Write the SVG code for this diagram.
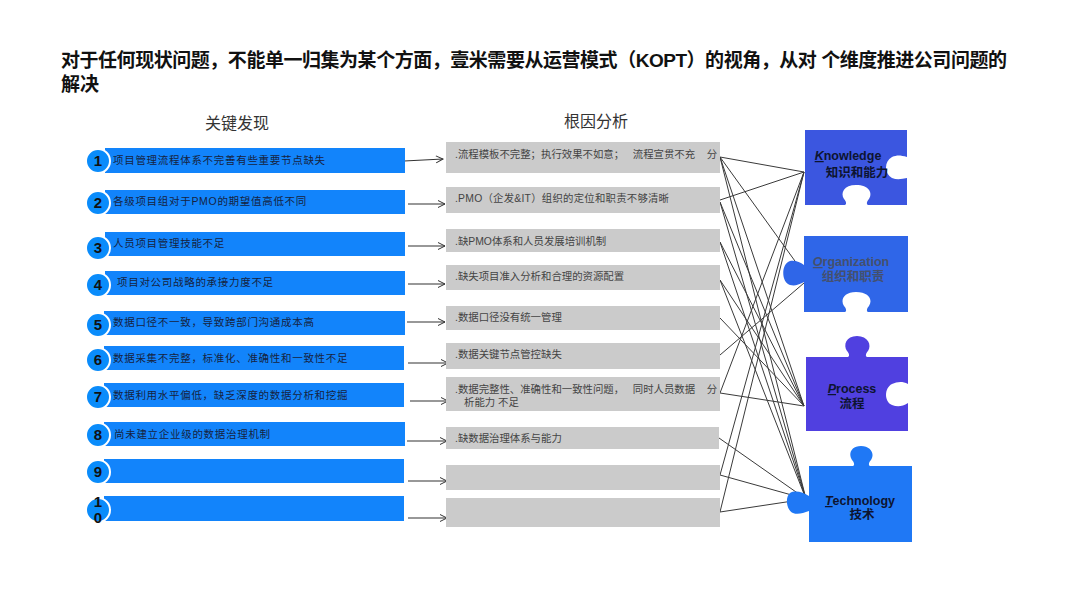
<svg xmlns="http://www.w3.org/2000/svg" width="1080" height="608" viewBox="0 0 1080 608">
<defs>
<marker id="arr" markerWidth="10" markerHeight="10" refX="8" refY="4" orient="auto" markerUnits="userSpaceOnUse"><path d="M1 0.5L8 4L1 7.5" fill="none" stroke="#333" stroke-width="1"/></marker>
</defs>
<style>
text{font-family:"Liberation Sans","Noto Sans CJK SC",sans-serif}
.t{font-size:19px;font-weight:700;fill:#111}
.h{font-size:16px;fill:#333;text-anchor:middle}
.bar{fill:#1284fb}
.c{fill:#0a8cfb;stroke:#fff;stroke-width:2}
.n{font-size:15px;font-weight:700;fill:#111;text-anchor:middle}
.bt{font-size:10.5px;fill:#16233f;letter-spacing:.7px}
.box{fill:#cbcbcb}
.gt{font-size:10.4px;fill:#444}
.a{stroke:#333;stroke-width:1.1;fill:none;marker-end:url(#arr)}
.l{stroke:#3a3a3a;stroke-width:1;fill:none}
.pe{font-size:12.5px;font-weight:700;text-anchor:middle}
.pc{font-size:12.5px;font-weight:700;text-anchor:middle}
.i{font-style:italic;text-decoration:underline}
</style>
<rect width="1080" height="608" fill="#fff"/>
<g id="title">
<text class="t" x="61" y="67" textLength="946" lengthAdjust="spacing">对于任何现状问题，不能单一归集为某个方面，壹米需要从运营模式（KOPT）的视角，从对 个维度推进公司问题的</text>
<text class="t" x="61" y="91">解决</text>
</g>
<text class="h" x="237" y="129">关键发现</text>
<text class="h" x="596" y="127">根因分析</text>
<g id="connectors">
<path class="a" d="M404 161L443 159"/>
<path class="a" d="M408 204L445 204"/>
<path class="a" d="M408 246L445 246"/>
<path class="a" d="M408 284L445 284"/>
<path class="a" d="M407 322L445 322"/>
<path class="a" d="M408 363L448 363"/>
<path class="a" d="M410 401L448 401"/>
<path class="a" d="M407 441L447 441"/>
<path class="a" d="M408 481L447 481"/>
<path class="a" d="M408 518L447 518"/>
<path class="l" d="M720 157L804 172M720 157L800 268M720 157L804 406M720 157L806 499"/>
<path class="l" d="M720 200L804 172M720 202L804 406M720 202L806 499"/>
<path class="l" d="M720 242L804 406M720 242L806 499"/>
<path class="l" d="M720 280L804 406M720 280L806 499"/>
<path class="l" d="M720 318L804 406"/>
<path class="l" d="M720 355L804 283"/>
<path class="l" d="M720 393L804 172M720 393L804 406"/>
<path class="l" d="M719 438L806 499"/>
<path class="l" d="M720 475L804 172M720 475L806 499"/>
<path class="l" d="M720 512L804 172M720 512L806 499"/>
</g>
<g id="f1"><rect class="bar" x="105" y="148" width="300" height="25"/><circle class="c" cx="98" cy="161" r="12"/><text class="n" x="98" y="166">1</text><text class="bt" x="113" y="164">项目管理流程体系不完善有些重要节点缺失</text></g>
<g id="f2"><rect class="bar" x="105" y="190" width="300" height="24"/><circle class="c" cx="98" cy="203" r="12"/><text class="n" x="98" y="208">2</text><text class="bt" x="113" y="205">各级项目组对于PMO的期望值高低不同</text></g>
<g id="f3"><rect class="bar" x="105" y="232" width="300" height="24"/><circle class="c" cx="98" cy="248" r="12"/><text class="n" x="98" y="253">3</text><text class="bt" x="113" y="247">人员项目管理技能不足</text></g>
<g id="f4"><rect class="bar" x="105" y="271" width="300" height="24"/><circle class="c" cx="98" cy="285" r="12"/><text class="n" x="98" y="290">4</text><text class="bt" x="117" y="286">项目对公司战略的承接力度不足</text></g>
<g id="f5"><rect class="bar" x="104" y="311" width="301" height="24"/><circle class="c" cx="98" cy="325" r="12"/><text class="n" x="98" y="330">5</text><text class="bt" x="113" y="326">数据口径不一致，导致跨部门沟通成本高</text></g>
<g id="f6"><rect class="bar" x="104" y="346" width="300" height="24"/><circle class="c" cx="98" cy="360" r="12"/><text class="n" x="98" y="365">6</text><text class="bt" x="113" y="362">数据采集不完整，标准化、准确性和一致性不足</text></g>
<g id="f7"><rect class="bar" x="104" y="383" width="300" height="24"/><circle class="c" cx="98" cy="397" r="12"/><text class="n" x="98" y="402">7</text><text class="bt" x="113" y="399">数据利用水平偏低，缺乏深度的数据分析和挖掘</text></g>
<g id="f8"><rect class="bar" x="104" y="422" width="301" height="24"/><circle class="c" cx="98" cy="435" r="12"/><text class="n" x="98" y="440">8</text><text class="bt" x="114" y="438">尚未建立企业级的数据治理机制</text></g>
<g id="f9"><rect class="bar" x="104" y="459" width="300" height="24"/><circle class="c" cx="98" cy="472" r="12"/><text class="n" x="98" y="477">9</text></g>
<g id="f10"><rect class="bar" x="104" y="496" width="300" height="25"/><circle class="c" cx="98" cy="510" r="12"/><text class="n" x="98" y="507">1</text><text class="n" x="98" y="523">0</text></g>
<g id="r1"><rect class="box" x="446" y="142" width="274" height="31"/><text class="gt" x="455" y="158" xml:space="preserve">.流程模板不完整；执行效果不如意；   流程宣贯不充    分</text></g>
<g id="r2"><rect class="box" x="446" y="187" width="274" height="26"/><text class="gt" x="455" y="202" textLength="214">.PMO（企发&amp;IT）组织的定位和职责不够清晰</text></g>
<g id="r3"><rect class="box" x="446" y="229" width="274" height="23"/><text class="gt" x="455" y="245">.缺PMO体系和人员发展培训机制</text></g>
<g id="r4"><rect class="box" x="446" y="265" width="274" height="25"/><text class="gt" x="455" y="280">.缺失项目准入分析和合理的资源配置</text></g>
<g id="r5"><rect class="box" x="446" y="306" width="274" height="24"/><text class="gt" x="455" y="321">.数据口径没有统一管理</text></g>
<g id="r6"><rect class="box" x="446" y="343" width="274" height="26"/><text class="gt" x="455" y="358">.数据关键节点管控缺失</text></g>
<g id="r7"><rect class="box" x="446" y="377" width="274" height="34"/><text class="gt" x="455" y="393" xml:space="preserve">.数据完整性、准确性和一致性问题，   同时人员数据    分</text><text class="gt" x="464" y="406">析能力 不足</text></g>
<g id="r8"><rect class="box" x="446" y="427" width="273" height="22"/><text class="gt" x="455" y="442">.缺数据治理体系与能力</text></g>
<g id="r9"><rect class="box" x="446" y="465" width="274" height="25"/></g>
<g id="r10"><rect class="box" x="446" y="498" width="274" height="29"/></g>
<g id="knowledge">
<path fill="#3b56e0" d="M805 130H907V157C900 155 897 155 892 157C884 161 884 174 892 178C897 180 902 179 907 178V205H868C866 204 867 201 869 199C873 193 869 185 856 185C844 185 840 193 844 199C846 201 847 204 845 205H805Z"/>
<text class="pe" x="848" y="160" fill="#0d1430"><tspan class="i">K</tspan>nowledge</text><text class="pc" x="857" y="177" fill="#0d1430">知识和能力</text>
</g>
<g id="organization">
<path fill="#2f66e8" d="M804 236H908V312H868C866 311 867 308 869 306C873 300 869 292 856 292C844 292 840 300 844 306C846 308 847 311 845 312H804V282C798 285 795 286 790 285C781 282 781 264 790 261C795 260 800 262 804 265Z"/>
<text class="pe" x="851" y="266" fill="#44506e"><tspan class="i">O</tspan>rganization</text><text class="pc" x="853" y="281" fill="#44506e">组织和职责</text>
</g>
<g id="process">
<path fill="#5040e0" d="M806 357H848C850 356 849 353 847 351C843 345 846 336 857 336C868 336 872 345 868 351C866 353 865 356 867 357H908V384C902 381 897 382 892 384C884 388 884 402 892 405C897 407 902 407 908 403V431H806Z"/>
<text class="pe" x="852" y="393" fill="#0d1430"><tspan class="i">P</tspan>rocess</text><text class="pc" x="852" y="408" fill="#0d1430">流程</text>
</g>
<g id="technology">
<path fill="#1f78f5" d="M809 466H853C855 465 854 462 852 460C848 454 851 446 861 446C871 446 875 454 871 460C869 462 868 465 870 466H912V542H809V511C803 513 798 515 793 513C786 510 785 497 790 493C795 490 803 492 809 496Z"/>
<text class="pe" x="860" y="505" fill="#0d1430"><tspan class="i">T</tspan>echnology</text><text class="pc" x="862" y="519" fill="#0d1430">技术</text>
</g>
</svg>
